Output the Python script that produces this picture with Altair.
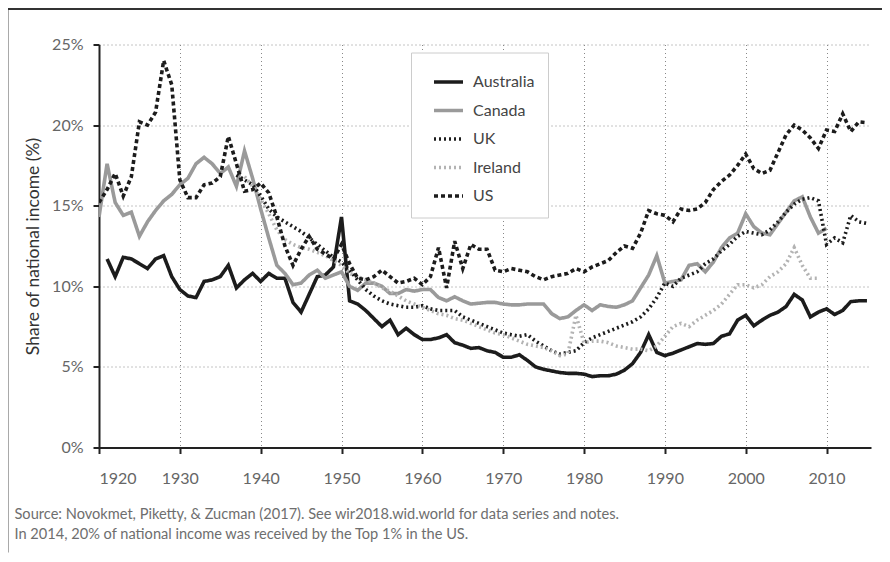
import altair as alt
import pandas as pd

countries = ["Australia", "Canada", "UK", "Ireland", "US"]
line_colors = ["#1c1c1c", "#9a9a9a", "#1c1c1c", "#b3b3b3", "#1c1c1c"]
line_dashes = [[1, 0], [1, 0], [2, 3], [2, 3], [4, 3]]
line_widths = [3.6, 3.6, 3.2, 3.2, 4.3]

aus_start = 1921
aus_values = [11.7, 10.6, 11.8, 11.7, 11.4, 11.1, 11.7, 11.9, 10.6, 9.8,
              9.4, 9.3, 10.3, 10.4, 10.6, 11.3, 9.9, 10.4, 10.8, 10.3,
              10.8, 10.5, 10.5, 9.0, 8.4, 9.5, 10.6, 10.7, 11.2, 14.3,
              9.1, 8.9, 8.5, 8.0, 7.5, 7.9, 7.0, 7.4, 7.0, 6.7,
              6.7, 6.8, 7.0, 6.5, 6.35, 6.15, 6.2, 6.0, 5.9, 5.6,
              5.6, 5.75, 5.4, 5.0, 4.85, 4.75, 4.65, 4.6, 4.6, 4.55,
              4.4, 4.45, 4.45, 4.55, 4.8, 5.2, 5.9, 7.0, 5.9, 5.7,
              5.85, 6.05, 6.25, 6.45, 6.4, 6.45, 6.9, 7.05, 7.9, 8.2,
              7.55, 7.9, 8.2, 8.4, 8.75, 9.5, 9.15, 8.1, 8.4, 8.6,
              8.25, 8.5, 9.05, 9.1, 9.1]

can_start = 1920
can_values = [14.3, 17.6, 15.2, 14.4, 14.6, 13.1, 14.0, 14.7, 15.3, 15.7,
              16.3, 16.7, 17.6, 18.0, 17.6, 17.0, 17.4, 16.2, 18.4, 16.7,
              14.8, 13.0, 11.3, 10.8, 10.1, 10.2, 10.7, 11.0, 10.5, 10.7,
              10.9, 10.0, 9.75, 10.2, 10.2, 10.0, 9.55, 9.55, 9.8, 9.7,
              9.8, 9.8, 9.3, 9.1, 9.35, 9.1, 8.9, 8.95, 9.0, 9.0,
              8.9, 8.85, 8.85, 8.9, 8.9, 8.9, 8.3, 8.0, 8.1, 8.5,
              8.85, 8.5, 8.85, 8.75, 8.7, 8.85, 9.1, 9.9, 10.7, 11.9,
              10.2, 10.3, 10.4, 11.3, 11.4, 10.9, 11.5, 12.4, 13.0, 13.3,
              14.5, 13.7, 13.3, 13.2, 13.9, 14.6, 15.3, 15.55, 14.3, 13.3,
              13.6]

uk_start = 1937
uk_values = [16.9, 16.6, 16.3, 15.6, 14.8, 14.3, 14.0, 13.7, 13.4, 13.0,
             12.6, 12.2, 11.8, 11.5, 11.0, 10.4, 9.8, 9.4, 9.1, 8.9,
             8.8, 8.7, 8.7, 8.8, 8.6, 8.5, 8.5, 8.5, 8.1, 7.9,
             7.7, 7.5, 7.3, 7.1, 7.0, 6.9, 7.0, 6.6, 6.3, 6.0,
             5.8, 5.9, 6.0, 6.5, 6.8, 7.0, 7.2, 7.4, 7.6, 7.8,
             8.1, 8.6, 9.3, 10.2, 10.0, 10.5, 10.7, 10.9, 11.4, 11.7,
             12.2, 12.6, 13.1, 13.4, 13.3, 13.2, 13.5, 14.0, 14.6, 15.1,
             15.4, 15.5, 15.3, 12.6, 13.0, 12.7, 14.4, 14.0, 13.9]

irl_start = 1938
irl_values = [16.8, 16.2, 15.4, 14.5, 13.5, 12.9, 12.6, 12.4, 12.3, 12.1,
              11.9, 11.6, 11.3, 10.8, 10.6, 10.4, 10.2, 9.9, 9.7, 9.4,
              9.1, 8.9, 8.7, 8.5, 8.3, 8.2, 8.0, 7.9, 7.7, 7.5,
              7.3, 7.1, 7.0, 6.8, 6.6, 6.4, 6.3, 6.2, 6.0, 5.7,
              5.8, 8.2, 6.5, 6.6, 6.6, 6.5, 6.3, 6.2, 6.1, 6.1,
              6.0, 6.3, 6.9, 7.5, 7.7, 7.5, 7.9, 8.2, 8.5, 8.9,
              9.5, 10.1, 10.1, 9.9, 10.1, 10.6, 10.9, 11.4, 12.4, 11.3,
              10.5, 10.5]

us_start = 1920
us_values = [15.2, 16.0, 17.0, 15.6, 16.8, 20.2, 20.0, 20.8, 24.0, 22.5,
             16.6, 15.5, 15.5, 16.3, 16.4, 16.8, 19.3, 17.6, 15.9, 16.0,
             16.4, 15.8, 14.3, 12.5, 11.3, 12.3, 13.1, 12.3, 12.0, 11.7,
             12.6, 11.4, 10.5, 10.4, 10.6, 11.0, 10.6, 10.2, 10.3, 10.5,
             10.1, 10.6, 12.4, 9.9, 12.8, 11.1, 12.6, 12.3, 12.3, 11.0,
             10.9, 11.1, 11.0, 10.9, 10.6, 10.4, 10.6, 10.7, 10.8, 11.1,
             10.9, 11.2, 11.4, 11.6, 12.1, 12.5, 12.35, 13.3, 14.7, 14.5,
             14.4, 14.0, 14.8, 14.7, 14.8, 15.2, 16.0, 16.5, 16.9, 17.5,
             18.2, 17.3, 17.0, 17.2, 18.3, 19.4, 20.0, 19.7, 19.2, 18.55,
             19.7, 19.6, 20.7, 19.6, 20.2, 20.15]

x_ticks = list(range(1920, 2011, 10))
y_ticks = [0, 5, 10, 15, 20, 25]
y_title = "Share of national income (%)"
footer_lines = ["Source: Novokmet, Piketty, & Zucman (2017). See wir2018.wid.world for data series and notes.",
                "In 2014, 20% of national income was received by the Top 1% in the US."]

rows = []
for name, start, vals in [("Australia", aus_start, aus_values), ("Canada", can_start, can_values),
                          ("UK", uk_start, uk_values), ("Ireland", irl_start, irl_values),
                          ("US", us_start, us_values)]:
    for i, v in enumerate(vals):
        rows.append({"country": name, "year": start + i, "share": v})
df = pd.DataFrame(rows)

FONT = "Lato"

legend = alt.Legend(
    title=None, orient="none", legendX=312, legendY=8,
    symbolType="stroke", symbolSize=841, labelFont=FONT, labelFontSize=16,
    labelColor="#444444", padding=13, rowPadding=3.5, labelOffset=8,
    symbolOffset=8, strokeColor="#cccccc", fillColor="white",
    labelExpr="datum.label + '       '",
)

lines = alt.Chart(df).mark_line(clip=True).encode(
    x=alt.X("year:Q", scale=alt.Scale(domain=[1920, 2015.5], nice=False, zero=False),
            axis=alt.Axis(values=x_ticks, format="d", title=None, labelPadding=17)),
    y=alt.Y("share:Q", scale=alt.Scale(domain=[0, 25], nice=False),
            axis=alt.Axis(values=y_ticks, labelExpr="datum.value + '%'", title=y_title,
                          titlePadding=9, labelPadding=10)),
    color=alt.Color("country:N", sort=countries,
                    scale=alt.Scale(domain=countries, range=line_colors), legend=legend),
    strokeDash=alt.StrokeDash("country:N", sort=countries,
                              scale=alt.Scale(domain=countries, range=line_dashes), legend=legend),
    strokeWidth=alt.StrokeWidth("country:N", sort=countries,
                                scale=alt.Scale(domain=countries, range=line_widths), legend=legend),
    order=alt.Order("year:Q"),
)

frame_df = pd.DataFrame({"k": [0]})
left_frame = alt.Chart(frame_df).mark_rule(color="#555555", strokeWidth=1).encode(
    x=alt.value(-91), y=alt.value(-36.5), y2=alt.value(508))
top_frame = alt.Chart(frame_df).mark_rule(color="#333333", strokeWidth=2).encode(
    y=alt.value(-35.5), x=alt.value(-91), x2=alt.value(783))

footer_df = pd.DataFrame({"line": footer_lines, "row": [0, 1]})
footer1 = alt.Chart(footer_df.iloc[[0]]).mark_text(
    align="left", baseline="middle", font=FONT, fontSize=14.6, color="#6e6e6e"
).encode(text="line:N", x=alt.value(-84.5), y=alt.value(470.5))
footer2 = alt.Chart(footer_df.iloc[[1]]).mark_text(
    align="left", baseline="middle", font=FONT, fontSize=14.6, color="#6e6e6e"
).encode(text="line:N", x=alt.value(-84.5), y=alt.value(490.5))

chart = alt.layer(lines, left_frame, top_frame, footer1, footer2).properties(
    width=772, height=403,
    autosize=alt.AutoSizeParams(type="none"),
    padding={"left": 91, "top": 36.5, "right": 11, "bottom": 105},
).configure_view(stroke=None).configure_axis(
    labelFont=FONT, labelFontSize=16, labelColor="#666666",
    titleFont=FONT, titleFontSize=17.5, titleColor="#333333", titleFontWeight="normal",
    domainColor="#222222", domainWidth=2, tickColor="#222222", tickWidth=2, tickSize=6,
    gridColor="#888888", gridDash=[1, 3], gridWidth=1,
)

chart.save("out.html", embed_options={"renderer": "svg", "actions": False})
